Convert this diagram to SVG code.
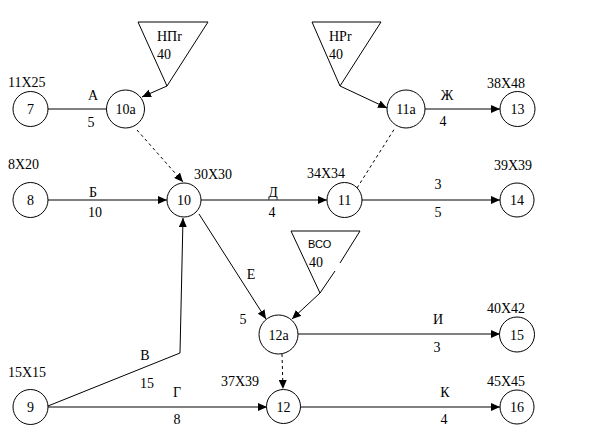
<svg xmlns="http://www.w3.org/2000/svg" width="600" height="444" viewBox="0 0 600 444">
<defs>
<marker id="ah" markerWidth="9" markerHeight="8" refX="9" refY="4" orient="auto" markerUnits="userSpaceOnUse">
<path d="M0,0 L9,4 L0,8 Z" fill="#000"/>
</marker>
<style>
.n{fill:#fff;stroke:#000;stroke-width:1}
.t{font-family:"Liberation Serif","Times New Roman",serif;font-size:14px;fill:#000}
.c{text-anchor:middle}
.s{font-family:"Liberation Sans",Arial,sans-serif;font-size:11px;fill:#000}
.e{stroke:#000;stroke-width:1;fill:none}
.a{marker-end:url(#ah)}
.d{stroke-dasharray:3,3}
.tri{fill:none;stroke:#000;stroke-width:1}
</style>
</defs>
<rect width="600" height="444" fill="#fff"/>
<g id="connectors">
<line class="e" x1="48" y1="109" x2="106" y2="109"/>
<line class="e a" x1="167" y1="86" x2="142" y2="97"/>
<line class="e a d" x1="137" y1="130" x2="183" y2="182"/>
<line class="e a" x1="48" y1="200" x2="167" y2="200"/>
<line class="e a" x1="201" y1="200" x2="327" y2="200"/>
<line class="e a" x1="362" y1="200" x2="500" y2="200"/>
<line class="e d" x1="357" y1="188" x2="395" y2="128"/>
<line class="e a" x1="340" y1="86" x2="387" y2="108"/>
<line class="e a" x1="425" y1="109" x2="500" y2="109"/>
<line class="e a" x1="199" y1="214" x2="266" y2="319"/>
<polyline class="e a" points="48,406 180,353 183,218"/>
<line class="e a" x1="48" y1="407" x2="267" y2="407"/>
<line class="e a" x1="320" y1="293" x2="292" y2="319"/>
<line class="e a d" x1="282" y1="354" x2="283" y2="389"/>
<line class="e a" x1="298" y1="334" x2="500" y2="334"/>
<line class="e a" x1="300" y1="407" x2="500" y2="407"/>
</g>
<g id="edge-labels">
<text class="t c" x="93" y="100">А</text>
<text class="t c" x="91" y="127">5</text>
<text class="t c" x="93" y="197">Б</text>
<text class="t c" x="95" y="217">10</text>
<text class="t c" x="273" y="197">Д</text>
<text class="t c" x="272" y="217">4</text>
<text class="t c" x="447" y="100">Ж</text>
<text class="t c" x="443" y="126">4</text>
<text class="t c" x="438" y="189">3</text>
<text class="t c" x="438" y="217">5</text>
<text class="t c" x="251" y="279">Е</text>
<text class="t c" x="243" y="324">5</text>
<text class="t c" x="145" y="360">В</text>
<text class="t c" x="147" y="388">15</text>
<text class="t c" x="177" y="397">Г</text>
<text class="t c" x="177" y="424">8</text>
<text class="t c" x="438" y="324">И</text>
<text class="t c" x="437" y="352">3</text>
<text class="t c" x="445" y="397">К</text>
<text class="t c" x="444" y="424">4</text>
</g>
<g id="res-npg">
<path class="tri" d="M138,22 L208,22 L167,86 Z"/>
<text class="t" x="157" y="41">НПr</text>
<text class="t" x="157" y="59">40</text>
</g>
<g id="res-nrg">
<path class="tri" d="M312,22 L381,22 L340,86 Z"/>
<text class="t" x="329" y="41">НРr</text>
<text class="t" x="329" y="59">40</text>
</g>
<g id="res-vso">
<path class="tri" d="M340,263 L360,231 L291,231 L320,293 L335,271"/>
<text class="s" x="308" y="248">ВСО</text>
<text class="t" x="309" y="267">40</text>
</g>
<g id="n7"><circle class="n" cx="30.5" cy="109" r="17.5"/><text class="t c" x="30.5" y="114">7</text><text class="t" x="8" y="87">11Х25</text></g>
<g id="n10a"><circle class="n" cx="125.5" cy="109" r="19"/><text class="t c" x="125.5" y="114">10а</text></g>
<g id="n8"><circle class="n" cx="30.5" cy="200" r="17.5"/><text class="t c" x="30.5" y="205">8</text><text class="t" x="8" y="169">8Х20</text></g>
<g id="n10"><circle class="n" cx="184" cy="200" r="17"/><text class="t c" x="184" y="205">10</text><text class="t" x="194" y="179">30Х30</text></g>
<g id="n11"><circle class="n" cx="344.5" cy="200" r="17.5"/><text class="t c" x="344.5" y="205">11</text><text class="t" x="307" y="178">34Х34</text></g>
<g id="n11a"><circle class="n" cx="406" cy="109" r="19"/><text class="t c" x="406" y="114">11а</text></g>
<g id="n13"><circle class="n" cx="517.5" cy="109" r="17.5"/><text class="t c" x="517.5" y="114">13</text><text class="t" x="487" y="88">38Х48</text></g>
<g id="n14"><circle class="n" cx="517" cy="200" r="17"/><text class="t c" x="517" y="205">14</text><text class="t" x="494" y="170">39Х39</text></g>
<g id="n9"><circle class="n" cx="30.5" cy="407" r="17.5"/><text class="t c" x="30.5" y="412">9</text><text class="t" x="8" y="377">15Х15</text></g>
<g id="n12a"><circle class="n" cx="278.5" cy="334.5" r="19.5"/><text class="t c" x="278.5" y="339.5">12а</text></g>
<g id="n12"><circle class="n" cx="283.5" cy="406.5" r="17"/><text class="t c" x="283.5" y="411.5">12</text><text class="t" x="221" y="386">37Х39</text></g>
<g id="n15"><circle class="n" cx="517" cy="334.5" r="17.5"/><text class="t c" x="517" y="339.5">15</text><text class="t" x="487" y="313">40Х42</text></g>
<g id="n16"><circle class="n" cx="517" cy="407" r="17"/><text class="t c" x="517" y="412">16</text><text class="t" x="487" y="386">45Х45</text></g>
</svg>
